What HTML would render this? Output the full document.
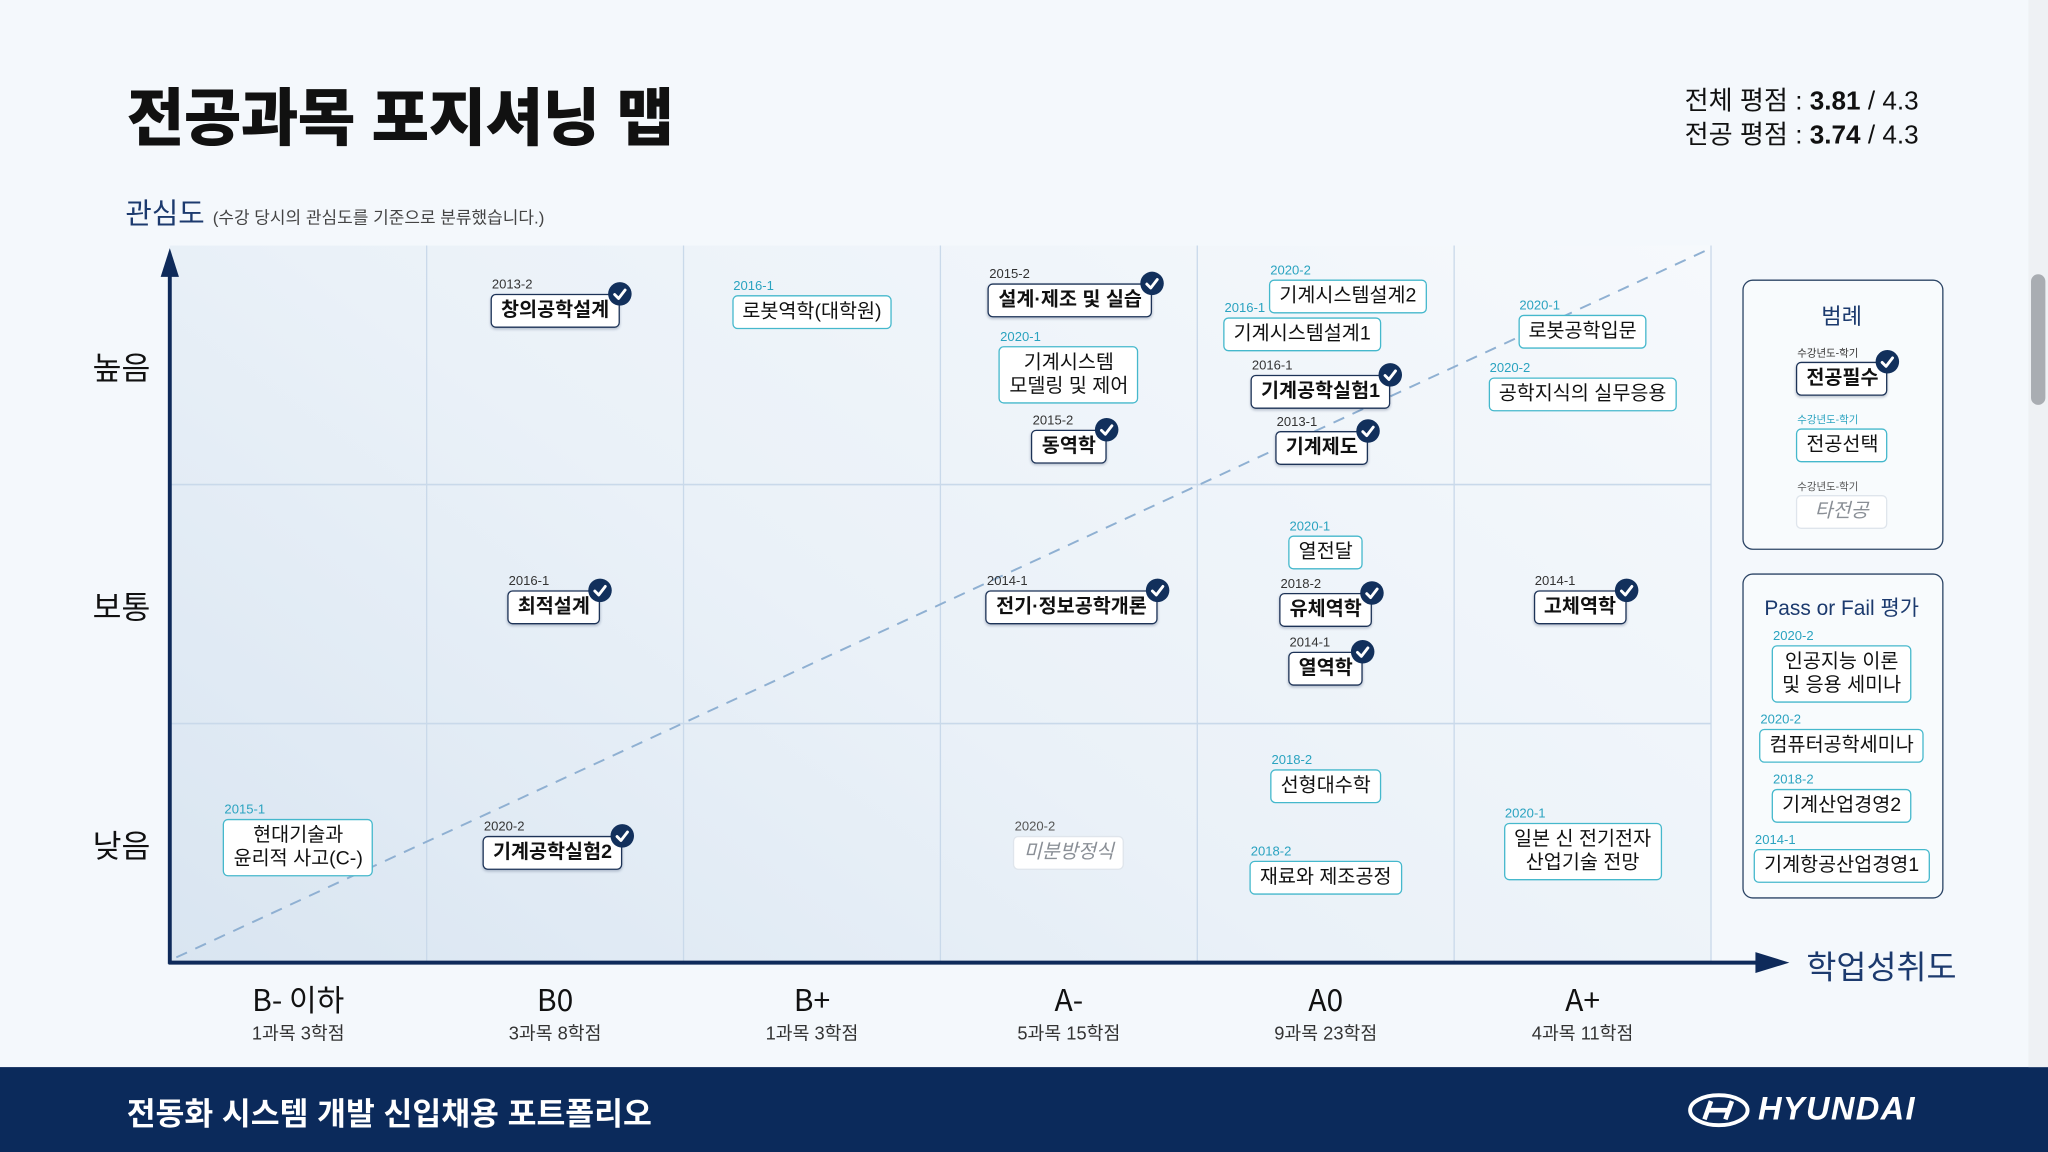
<!DOCTYPE html>
<html><head><meta charset="utf-8"><style>
*{margin:0;padding:0;box-sizing:border-box}
html,body{width:2048px;height:1152px;overflow:hidden;background:#f4f8fc}
#wrap{position:absolute;left:0;top:0;width:1568px;height:882px;transform:scale(1.30612);transform-origin:0 0;font-family:"Liberation Sans","Noto Sans CJK KR",sans-serif;color:#111}
.abs{position:absolute}
.box{position:absolute;transform:translate(-50%,-50%);background:#fff;border-radius:4px;padding:3px 7px;font-size:15px;line-height:18px;text-align:center;white-space:nowrap;color:#111}
.req{border:1.6px solid #1d3357;font-weight:bold;box-shadow:0 1px 2px rgba(20,40,80,.25)}
.sel{border:1.6px solid #45b8cc}
.oth{border:1px solid #dfe5ec;color:#8a8f96;font-style:italic}
.yr{position:absolute;left:0;top:-13px;font-size:10px;line-height:11px;font-weight:normal;font-style:normal}
.req .yr{color:#333}.sel .yr{color:#2aa3c0}.oth .yr{color:#555}
.chk{position:absolute;right:-10px;top:-10px;width:18px;height:18px;border-radius:50%;background:#12305c}
.xl{position:absolute;transform:translateX(-50%);text-align:center;white-space:nowrap}
</style></head><body>
<div id="wrap">
<div class="abs" style="left:97px;top:60px;font-size:48px;font-weight:900;letter-spacing:-0.5px;line-height:64px">전공과목 포지셔닝 맵</div>
<div class="abs" style="right:99px;top:65px;font-size:20px;line-height:26px;text-align:right">전체 평점 : <b>3.81</b> / 4.3<br>전공 평점 : <b>3.74</b> / 4.3</div>
<div class="abs" style="left:96px;top:146px;font-size:22px;color:#1c3a6e;white-space:nowrap">관심도 <span style="font-size:13px;color:#444">(수강 당시의 관심도를 기준으로 분류했습니다.)</span></div>
<div class="abs" style="left:130px;top:188px;width:1180px;height:549px;background:linear-gradient(35deg,#d9e5f1 0%,#eaf1f8 45%,#f6f9fc 100%)"></div>
<svg id="chart" class="abs" style="left:0;top:0" width="1568" height="882"></svg>
<div id="boxes"></div>
<div class="abs" style="left:1383px;top:721px;font-size:25px;color:#1c3a6e;white-space:nowrap">학업성취도</div>

<div class="abs" style="left:1334px;top:214px;width:154px;height:207px;border:1.5px solid #2c4566;border-radius:8px;background:#f8fbfd"></div>
<div class="xl" style="left:1410px;top:228px;font-size:17px;color:#1c3a6e">범례</div>
<div class="abs" style="left:1334px;top:439px;width:154px;height:249px;border:1.5px solid #2c4566;border-radius:8px;background:#f8fbfd"></div>
<div class="xl" style="left:1410px;top:452px;font-size:16px;color:#1c3a6e">Pass or Fail 평가</div>

<div class="abs" style="left:0;top:817px;width:1568px;height:65px;background:#0b2a5b"></div>
<div class="abs" style="left:97px;top:833px;font-size:24px;font-weight:bold;color:#fff;white-space:nowrap">전동화 시스템 개발 신입채용 포트폴리오</div>
<div class="abs" style="left:1292px;top:836px;width:180px;height:28px">
<svg width="48" height="28" style="position:absolute;left:0;top:0"><ellipse cx="24" cy="14" rx="22" ry="11.5" fill="none" stroke="#fff" stroke-width="3"/><path d="M18 7 L13 21 M34 7 L29 21 M15 14 L32 14" stroke="#fff" stroke-width="3.5" fill="none"/></svg>
<div style="position:absolute;left:54px;top:-1px;font-size:25px;font-weight:900;color:#fff;font-style:italic;letter-spacing:1px">HYUNDAI</div></div>
<div class="abs" style="left:1553px;top:0;width:15px;height:817px;background:#eef1f4"></div>
<div class="abs" style="left:1555px;top:210px;width:11px;height:100px;border-radius:6px;background:#a9adb2"></div>
</div>
<script>
const gradeLabels=["B- 이하","B0","B+","A-","A0","A+"];
const gradeCourses=[1,3,1,5,9,4];
const gradeCredits=[3,8,3,15,23,11];
const interestLabels=["낮음","보통","높음"];
const courseNames=["창의공학설계","로봇역학(대학원)","설계·제조 및 실습","기계시스템<br>모델링 및 제어","동역학","기계시스템설계2","기계시스템설계1","기계공학실험1","기계제도","로봇공학입문","공학지식의 실무응용","최적설계","전기·정보공학개론","열전달","유체역학","열역학","고체역학","선형대수학","재료와 제조공정","일본 신 전기전자<br>산업기술 전망","현대기술과<br>윤리적 사고(C-)","기계공학실험2","미분방정식"];
const courseGrade=[1,2,3,3,3,4,4,4,4,5,5,1,3,4,4,4,5,4,4,5,0,1,3];
const courseInterest=[2,2,2,2,2,2,2,2,2,2,2,1,1,1,1,1,1,0,0,0,0,0,0];
const courseYears=["2013-2","2016-1","2015-2","2020-1","2015-2","2020-2","2016-1","2016-1","2013-1","2020-1","2020-2","2016-1","2014-1","2020-1","2018-2","2014-1","2014-1","2018-2","2018-2","2020-1","2015-1","2020-2","2020-2"];
const courseTypes=["req","sel","req","sel","req","sel","sel","req","req","sel","sel","req","req","sel","req","req","req","sel","sel","sel","sel","req","oth"];
// layout only: offsets of each box within its cell
const layoutDX=[0,0,1,0,0,17,-18,-4,-3,0,0,-1,2,0,0,0,-2,0,0,0,0,-2,0];
const layoutDY=[-42,-41,-50,7,62,-53,-24,20,63,-26,22,2,2,-40,4,49,2,-44,26,6,3,7,7];
const legendNames=["전공필수","전공선택","타전공"];
const legendTypes=["req","sel","oth"];
const pfNames=["인공지능 이론<br>및 응용 세미나","컴퓨터공학세미나","기계산업경영2","기계항공산업경영1"];
const pfYears=["2020-2","2020-2","2018-2","2014-1"];

const X0=130,X1=1310,Y0=737,Y1=188,NX=6,NY=3;
const cw=(X1-X0)/NX,ch=(Y0-Y1)/NY;
const xs=i=>X0+cw*(i+0.5);
const ys=j=>Y0-ch*(j+0.5);
const NS="http://www.w3.org/2000/svg";
const svg=document.getElementById('chart');
function mk(t,a){const e=document.createElementNS(NS,t);for(const k in a)e.setAttribute(k,a[k]);svg.appendChild(e);return e;}
for(let i=1;i<=NX;i++){const l=mk('line',{x1:X0+cw*i,x2:X0+cw*i,y1:Y1,y2:Y0,stroke:'#c9d9ea','stroke-width':1});

}
for(let j=1;j<NY;j++){const l=mk('line',{x1:X0,x2:X1,y1:Y0-ch*j,y2:Y0-ch*j,stroke:'#c9d9ea','stroke-width':1.2});

}
const d=mk('line',{x1:X0+5,y1:Y0-4,x2:X1,y2:Y1+2,stroke:'#8fb0d2','stroke-width':1.5,'stroke-dasharray':'9 7'});


const ya=mk('path',{d:`M${X0} ${Y0+1} L${X0} 205`,stroke:'#0e2a5a','stroke-width':3,fill:'none'});


const yh=mk('path',{d:`M${X0-7} 212 L${X0} 190 L${X0+7} 212 Z`,fill:'#0e2a5a'});


const xa=mk('path',{d:`M${X0-1} ${Y0} L1350 ${Y0}`,stroke:'#0e2a5a','stroke-width':3,fill:'none'});


const xh=mk('path',{d:`M1344 ${Y0-8} L1370 ${Y0} L1344 ${Y0+8} Z`,fill:'#0e2a5a'});



const wrap=document.getElementById('wrap');
function div(cls,html,x,y){const e=document.createElement('div');e.className=cls;e.innerHTML=html;e.style.left=x+'px';e.style.top=y+'px';wrap.appendChild(e);return e;}
interestLabels.forEach((t,j)=>{const e=div('abs',t,0,ys(j)-18);e.style.width='186px';e.style.textAlign='center';e.style.fontSize='24px';

});
gradeLabels.forEach((t,i)=>{const e=div('xl',t,xs(i),748);e.style.fontSize='23px';e.style.fontFamily='"Noto Sans CJK KR",sans-serif';e.style.lineHeight='32px';


const s=div('xl',gradeCourses[i]+'과목 '+gradeCredits[i]+'학점',xs(i),781);s.style.fontSize='14px';s.style.color='#333';

});
const CHK='<svg width="18" height="18"><path d="M5 9.5 L8 12.5 L13 6" stroke="#fff" stroke-width="2.2" fill="none" stroke-linecap="round" stroke-linejoin="round"/></svg>';
function course(name,year,type,x,y){const e=div('box '+type,name+'<span class="yr">'+year+'</span>'+(type==='req'?'<span class="chk">'+CHK+'</span>':''),x,y);return e;}
courseNames.forEach((n,k)=>{const e=course(n,courseYears[k],courseTypes[k],xs(courseGrade[k])+layoutDX[k],ys(courseInterest[k])+layoutDY[k]);

});
legendNames.forEach((n,k)=>{const e=course(n,'수강년도-학기',legendTypes[k],1410,290+k*51);e.style.width='70px';e.querySelector('.yr').style.fontSize='8px';

});
const pfY=[516,571,617,663];
pfNames.forEach((n,k)=>{const e=course(n,pfYears[k],'sel',1410,pfY[k]);

});
</script>
</body></html>
